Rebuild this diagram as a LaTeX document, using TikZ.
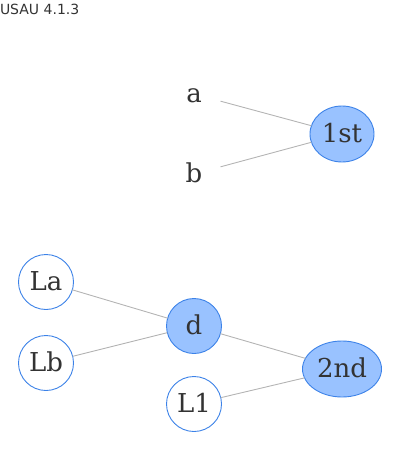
\documentclass[tikz,border=0pt]{standalone}
\usepackage{fontspec}
\usetikzlibrary{shapes.geometric}
\setmainfont{DejaVu Serif}
\newfontfamily\titlefont{DejaVu Sans}
\definecolor{nodefill}{HTML}{99C2FF}
\definecolor{nodeline}{HTML}{3C82E8}
\definecolor{edgeline}{HTML}{B4B4B4}
\definecolor{ink}{HTML}{333333}
\begin{document}
\begin{tikzpicture}[x=1pt,y=-1pt,
  every node/.style={inner sep=0pt, outer sep=0pt, text=ink},
  label text/.style={font=\fontsize{26}{30}\selectfont, text height=19pt, text depth=2.4pt},
  plain/.style={label text, circle, minimum size=55pt},
  leaf/.style={label text, circle, minimum size=55pt, draw=nodeline, line width=0.9pt, fill=white},
  inner/.style={label text, circle, minimum size=55pt, draw=nodeline, line width=0.9pt, fill=nodefill},
  winner/.style={label text, ellipse, minimum width=#1, minimum height=56pt, draw=nodeline, line width=0.9pt, fill=nodefill},
  link/.style={draw=edgeline, line width=0.9pt}]
\useasboundingbox (0,0) rectangle (400,460);

\node[anchor=base west, font=\titlefont\fontsize{14}{16}\selectfont] (title) at (0,15) {USAU 4.1.3};

% first-place game
\node[plain] (a) at (194,94) {a};
\node[plain] (b) at (194,174) {b};
\node[winner=64pt] (first) at (342,134) {1st};
\path[link] (a) -- (first);
\path[link] (b) -- (first);

% second-place bracket
\node[leaf] (La) at (46,282) {La};
\node[leaf] (Lb) at (46,363) {Lb};
\node[inner] (d) at (194,326) {d};
\node[leaf] (L1) at (194,404) {L1};
\node[winner=79pt] (second) at (342,369) {2nd};
\path[link] (La) -- (d);
\path[link] (Lb) -- (d);
\path[link] (d) -- (second);
\path[link] (L1) -- (second);
\end{tikzpicture}
\end{document}
